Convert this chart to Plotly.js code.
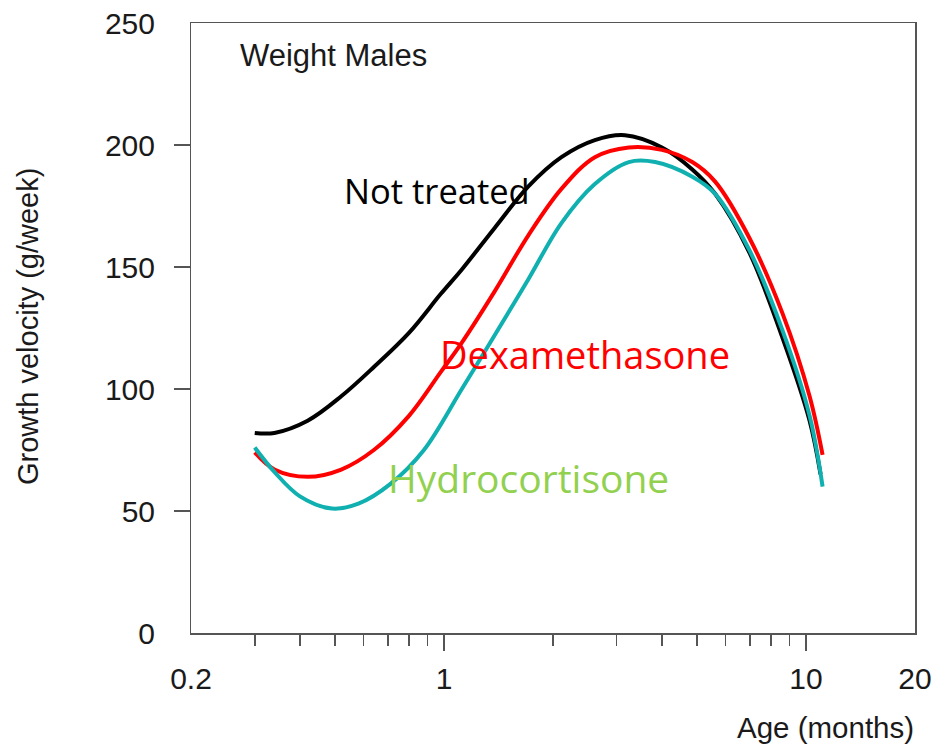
<!DOCTYPE html>
<html>
<head>
<meta charset="utf-8">
<script src="https://cdn.plot.ly/plotly-3.0.1.min.js"></script>
<style>html,body{margin:0;padding:0;background:#fff;}#chart{width:932px;height:747px;}</style>
</head>
<body>
<div id="chart"></div>
<script>
// Age (months) and growth velocity (g/week)
const notTreatedAge = [0.30, 0.34, 0.42, 0.52, 0.64, 0.80, 0.98, 1.12, 1.38, 1.71, 2.11, 2.61, 3.16, 4.0, 4.85, 5.61, 6.97, 8.61, 10.23, 10.97];
const notTreatedGV  = [82, 82, 87, 97, 109, 123, 139, 149, 166, 183, 195, 202, 204, 199, 190, 180, 156, 121, 87, 65];

const dexaAge = [0.30, 0.34, 0.42, 0.52, 0.64, 0.80, 0.98, 1.12, 1.38, 1.71, 2.11, 2.61, 3.24, 4.0, 4.85, 5.61, 6.97, 8.61, 10.23, 11.11];
const dexaGV  = [74, 67, 64, 67, 75, 89, 107, 119, 140, 163, 182, 195, 199, 198, 193, 185, 162, 131, 97, 73];

const hydroAge = [0.30, 0.34, 0.40, 0.49, 0.58, 0.71, 0.88, 1.12, 1.38, 1.71, 2.11, 2.61, 3.24, 3.83, 4.85, 5.61, 6.97, 8.61, 10.23, 11.11];
const hydroGV  = [76, 66, 56, 51, 53, 61, 75, 100, 122, 145, 168, 184, 193, 193, 187, 180, 157, 124, 89, 60];

const xTickVals = [0.2, 1, 10, 20];
const xTickText = ['0.2', '1', '10', '20'];
const xMajorTicks = [1, 10];
const xMinorTicks = [0.3, 0.4, 0.5, 0.6, 0.7, 0.8, 0.9, 2, 3, 4, 5, 6, 7, 8, 9];
const yTickVals = [0, 50, 100, 150, 200, 250];
const yTickMarks = [50, 100, 150, 200];

const xr = [Math.log10(0.2) - 1e-6, Math.log10(20) + 1e-6];
const axisColor = '#555';
const sans = 'Liberation Sans, Arial, sans-serif';
const tickFont = {family: sans, size: 30, color: '#1a1a1a'};

const traces = [
  {x: notTreatedAge, y: notTreatedGV, mode: 'lines', line: {color: '#000000', width: 4, shape: 'spline', smoothing: 1}, name: 'Not treated'},
  {x: dexaAge, y: dexaGV, mode: 'lines', line: {color: '#ff0000', width: 4, shape: 'spline', smoothing: 1}, name: 'Dexamethasone'},
  {x: hydroAge, y: hydroGV, mode: 'lines', line: {color: '#10b0b0', width: 4, shape: 'spline', smoothing: 1}, name: 'Hydrocortisone'},
  {x: [1], y: [0], xaxis: 'x2', yaxis: 'y2', mode: 'markers', marker: {opacity: 0}, hoverinfo: 'skip', showlegend: false}
];

const layout = {
  width: 932, height: 747,
  margin: {l: 191, r: 17, t: 23, b: 114},
  paper_bgcolor: '#fff', plot_bgcolor: '#fff',
  showlegend: false,
  xaxis: {
    type: 'log', range: xr, tickmode: 'array', tickvals: xMajorTicks,
    showticklabels: false, ticks: 'outside', ticklen: 16, tickwidth: 1.5, tickcolor: axisColor,
    minor: {tickmode: 'array', tickvals: xMinorTicks, ticks: 'outside', ticklen: 11, tickwidth: 1.5, tickcolor: axisColor, showgrid: false},
    showgrid: false, zeroline: false, showline: true, linecolor: axisColor, linewidth: 1.5, mirror: true
  },
  xaxis2: {
    type: 'log', range: xr, overlaying: 'x', anchor: 'y', side: 'bottom',
    tickmode: 'array', tickvals: xTickVals, ticktext: xTickText, ticks: '',
    ticklabelstandoff: 25, tickfont: tickFont,
    showgrid: false, zeroline: false, showline: false
  },
  yaxis: {
    range: [0, 250], tickmode: 'array', tickvals: yTickMarks, showticklabels: false,
    ticks: 'outside', ticklen: 16, tickwidth: 1.5, tickcolor: axisColor,
    showgrid: false, zeroline: false, showline: true, linecolor: axisColor, linewidth: 1.5, mirror: true
  },
  yaxis2: {
    range: [0, 250], overlaying: 'y', anchor: 'x', side: 'left',
    tickmode: 'array', tickvals: yTickVals, ticks: '', ticklabelstandoff: 35, tickfont: tickFont,
    showgrid: false, zeroline: false, showline: false
  },
  annotations: [
    {xref: 'paper', yref: 'paper', x: -0.2250, y: 0.5033, text: 'Growth velocity (g/week)', textangle: -90, showarrow: false,
      font: {family: sans, size: 29, color: '#1a1a1a'}, xanchor: 'center', yanchor: 'middle'},
    {xref: 'paper', yref: 'paper', x: 0.877, y: -0.1557, text: 'Age (months)', showarrow: false,
      font: {family: sans, size: 29.5, color: '#1a1a1a'}, xanchor: 'center', yanchor: 'middle'},
    {xref: 'paper', yref: 'paper', x: 0.0649, y: 0.9475, text: 'Weight Males', showarrow: false,
      font: {family: sans, size: 31, color: '#1a1a1a'}, xanchor: 'left', yanchor: 'middle'},
    {xref: 'paper', yref: 'paper', x: 0.2086, y: 0.7262, text: 'Not treated', showarrow: false,
      font: {family: 'Open Sans, sans-serif', size: 34.5, color: '#000'}, xanchor: 'left', yanchor: 'middle'},
    {xref: 'paper', yref: 'paper', x: 0.3412, y: 0.4574, text: 'Dexamethasone', showarrow: false,
      font: {family: 'Open Sans, sans-serif', size: 38, color: '#ff0000'}, xanchor: 'left', yanchor: 'middle'},
    {xref: 'paper', yref: 'paper', x: 0.2693, y: 0.2541, text: 'Hydrocortisone', showarrow: false,
      font: {family: 'Open Sans, sans-serif', size: 39, color: '#92d050'}, xanchor: 'left', yanchor: 'middle'}
  ]
};

Plotly.newPlot('chart', traces, layout, {staticPlot: true, displayModeBar: false});
</script>
</body>
</html>
